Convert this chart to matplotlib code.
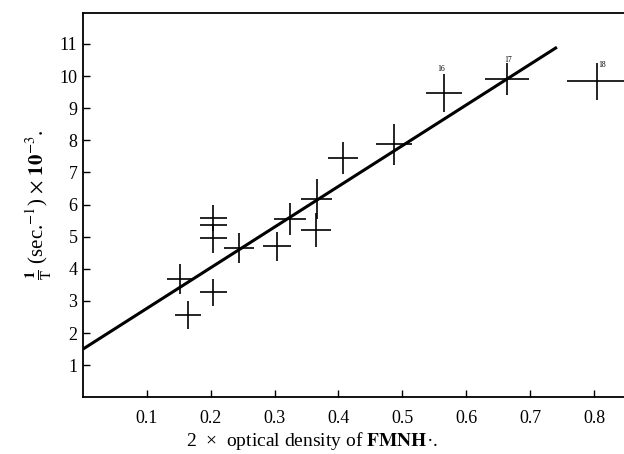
import matplotlib
matplotlib.use("Agg")
import matplotlib.pyplot as plt

# data
od = [0.152, 0.164, 0.204, 0.204, 0.204, 0.204, 0.244, 0.304, 0.324, 0.365, 0.366, 0.407, 0.487, 0.565, 0.664, 0.804]
rate = [3.68, 2.55, 5.58, 5.36, 4.95, 3.27, 4.64, 4.70, 5.54, 5.20, 6.17, 7.45, 7.88, 9.47, 9.91, 9.84]
od_err = [0.021, 0.020, 0.021, 0.021, 0.021, 0.021, 0.023, 0.022, 0.025, 0.024, 0.024, 0.024, 0.028, 0.028, 0.035, 0.047]
rate_err = [0.48, 0.44, 0.40, 0.0, 0.45, 0.42, 0.47, 0.45, 0.50, 0.53, 0.62, 0.51, 0.64, 0.59, 0.50, 0.57]

fit_x = [0.0, 0.742]
fit_y = [1.5, 10.9]

run_labels = ["16", "17", "18"]
run_index = [13, 14, 15]

xticks = [0.1, 0.2, 0.3, 0.4, 0.5, 0.6, 0.7, 0.8]
yticks = [1, 2, 3, 4, 5, 6, 7, 8, 9, 10, 11]

plt.rcParams['font.family'] = ['Liberation Serif', 'DejaVu Serif']
plt.rcParams['mathtext.fontset'] = 'stix'

fig = plt.figure(figsize=(6.24, 4.54), dpi=100)
ax = fig.add_axes([0.133, 0.125, 0.867, 0.846])

ax.errorbar(od, rate, xerr=od_err, yerr=rate_err, fmt='none',
            ecolor='black', elinewidth=1.2, capsize=0)
ax.plot(fit_x, fit_y, color='black', lw=2.2, solid_capstyle='butt')

# little run numbers above the last three crosses
offsets = [(-2, 2), (1, 1), (4, -3)]
for lab, i, off in zip(run_labels, run_index, offsets):
    ax.annotate(lab, (od[i], rate[i] + rate_err[i]), xytext=off,
                textcoords='offset points', fontsize=5.5, ha='center')

ax.set_xlim(0, 0.847)
ax.set_ylim(0, 11.96)
ax.set_xticks(xticks)
ax.set_xticklabels([str(t) for t in xticks])
ax.set_yticks(yticks)
ax.tick_params(direction='in', length=5, width=1, labelsize=13)
ax.tick_params(axis='x', pad=9)
ax.tick_params(axis='y', pad=4)

ax.spines['right'].set_visible(False)
for s in ['left', 'bottom', 'top']:
    ax.spines[s].set_linewidth(1.3)

ax.set_xlabel('2  \u00d7  optical density of $\\mathbf{FMNH}$\u00b7.', fontsize=14)
ax.xaxis.set_label_coords(0.423, -0.085)
ax.set_ylabel(r'$\frac{\mathbf{1}}{\mathrm{T}}$ (sec.$^{-1}$) $\times$ $\mathbf{10}^{-3}$.', fontsize=15, labelpad=4)

fig.savefig('out.png', dpi=100)
